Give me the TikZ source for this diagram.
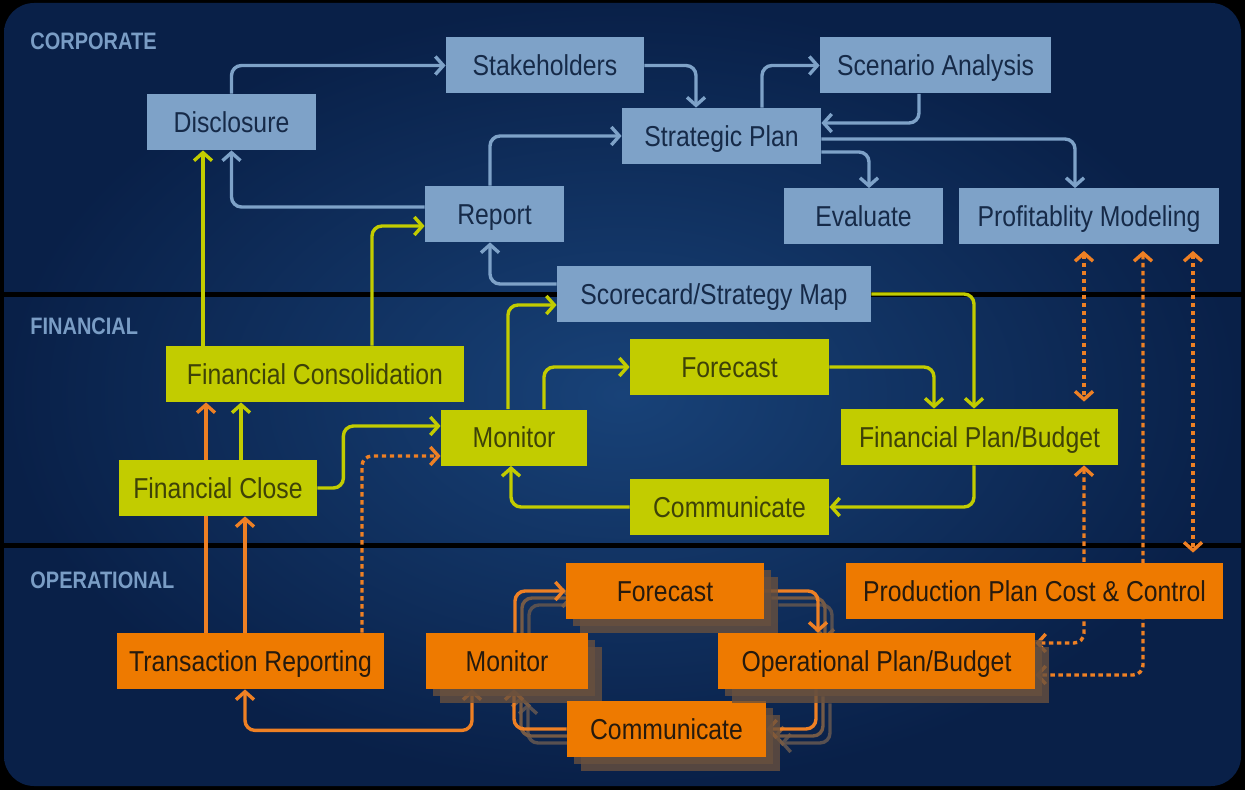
\documentclass[tikz,border=0pt]{standalone}
\usepackage{fontspec}
\setmainfont{Liberation Sans}[FakeStretch=0.86]
\newfontfamily\bandfont{Liberation Sans}[FakeStretch=0.84]
\usepackage{xcolor}
\usepackage{tikz}
\usetikzlibrary{arrows.meta, calc, shadows}

\definecolor{bgin}{RGB}{24,66,120}
\definecolor{bgout}{RGB}{9,32,72}
\definecolor{bandtext}{RGB}{122,157,197}
\definecolor{corpbox}{RGB}{126,162,200}
\definecolor{corptext}{RGB}{22,42,72}
\definecolor{finbox}{RGB}{194,204,0}
\definecolor{fintext}{RGB}{62,66,8}
\definecolor{opbox}{RGB}{238,122,0}
\definecolor{optext}{RGB}{38,26,14}
\definecolor{oparr}{RGB}{238,128,36}
\definecolor{opshade}{RGB}{104,80,62}
\definecolor{opshadeA}{RGB}{116,90,70}
\definecolor{opshadeB}{RGB}{88,80,80}

\newlength{\unitpx}\setlength{\unitpx}{0.5pt}

\pgfdeclarelayer{bg}
\pgfdeclarelayer{edges}
\pgfsetlayers{bg,edges,main}

\begin{document}
\begin{tikzpicture}[
  x=\unitpx, y=-\unitpx,
  >={Straight Barb[length=4pt,width=9pt]},
  box/.style={inner sep=0pt, minimum height=56\unitpx, text height=10.4pt, text depth=0pt, font=\fontsize{14.4}{16}\selectfont},
  corp/.style={box, fill=corpbox, text=corptext},
  fin/.style={box, fill=finbox, text=fintext},
  ops/.style={box, fill=opbox, text=optext},
  stack/.style={double copy shadow={shadow xshift=3.5pt, shadow yshift=-3.5pt, fill=opshade, draw=none, opacity=0.8}},
  band/.style={font=\bandfont\bfseries\fontsize{11.9}{14}\selectfont, text=bandtext, anchor=base west, inner sep=0pt},
  arr/.style={->, line width=1.7pt, rounded corners=5pt},
  barr/.style={arr, draw=corpbox},
  garr/.style={arr, draw=finbox},
  oarr/.style={arr, draw=oparr},
  odot/.style={oarr, dash pattern=on 2.2pt off 1.8pt}
]
\useasboundingbox (0,0) rectangle (1245,790);

% Background and bands
\begin{pgfonlayer}{bg}
\fill[black] (0,0) rectangle (1245,790);
\shade[inner color=bgin, outer color=bgout, rounded corners=15pt] (4,3) rectangle (1241,786);
\draw[black, line width=2.5pt] (0,294.5) -- (1245,294.5);
\draw[black, line width=2.5pt] (0,545.5) -- (1245,545.5);
\end{pgfonlayer}

\node[band] (corplabel) at (30,50) {CORPORATE};
\node[band] (finlabel) at (30,335) {FINANCIAL};
\node[band] (oplabel) at (30,588) {OPERATIONAL};

% Corporate
\node[corp, minimum width=169\unitpx] (disc) at (231.5,122) {Disclosure};
\node[corp, minimum width=198\unitpx] (stake) at (545,65.5) {Stakeholders};
\node[corp, minimum width=199\unitpx] (strat) at (721.5,136) {Strategic Plan};
\node[corp, minimum width=231\unitpx] (scen) at (935.5,65.5) {Scenario Analysis};
\node[corp, minimum width=139\unitpx] (report) at (494.5,214) {Report};
\node[corp, minimum width=159\unitpx] (eval) at (863.5,216.5) {Evaluate};
\node[corp, minimum width=260\unitpx] (profit) at (1089,216.5) {Profitablity Modeling};
\node[corp, minimum width=314\unitpx] (score) at (714,294) {Scorecard/Strategy Map};

% Financial
\node[fin, minimum width=298\unitpx] (fcons) at (315,374) {Financial Consolidation};
\node[fin, minimum width=198\unitpx] (fclose) at (218,488) {Financial Close};
\node[fin, minimum width=146\unitpx] (fmon) at (514,437.5) {Monitor};
\node[fin, minimum width=199\unitpx] (ffore) at (729.5,367) {Forecast};
\node[fin, minimum width=199\unitpx] (fcomm) at (729.5,507) {Communicate};
\node[fin, minimum width=277\unitpx] (fplan) at (979.5,437) {Financial Plan/Budget};

% Operational
\node[ops, minimum width=267\unitpx] (trans) at (250.5,661) {Transaction Reporting};
\node[ops, stack, minimum width=162\unitpx] (omon) at (507,661) {Monitor};
\node[ops, stack, minimum width=198\unitpx] (ofore) at (665,591) {Forecast};
\node[ops, stack, minimum width=199\unitpx] (ocomm) at (666.5,729) {Communicate};
\node[ops, stack, minimum width=317\unitpx] (oplan) at (876.5,661) {Operational Plan/Budget};
\node[ops, minimum width=377\unitpx] (prod) at (1034.5,591) {Production Plan Cost \& Control};

\begin{pgfonlayer}{edges}
% Corporate links
\draw[barr] (disc.north) |- (stake.west);
\draw[barr] (stake.east) -| ($(strat.north)+(-25.5,0)$);
\draw[barr] ($(strat.north)+(40.5,0)$) |- (scen.west);
\draw[barr] ($(scen.south)+(-16.5,0)$) |- ($(strat.east)+(0,-13)$);
\draw[barr] ($(strat.east)+(0,3)$) -| ($(profit.north)+(-14,0)$);
\draw[barr] ($(strat.east)+(0,16)$) -| ($(eval.north)+(5.5,0)$);
\draw[barr] ($(report.north)+(-4.5,0)$) |- (strat.west);
\draw[barr] ($(report.west)+(0,-7)$) -| (disc.south);
\draw[barr] ($(score.west)+(0,-10)$) -| ($(report.south)+(-4.5,0)$);

% Financial links
\draw[garr] ($(fcons.north)+(-112,0)$) -- ($(disc.south)+(-28.5,0)$);
\draw[garr] ($(fcons.north)+(57,0)$) |- ($(report.west)+(0,12)$);
\draw[garr] ($(fclose.north)+(23,0)$) -- ($(fcons.south)+(-74,0)$);
\draw[garr] (fclose.east) -- ++(26,0) |- ($(fmon.west)+(0,-11.5)$);
\draw[garr] ($(fmon.north)+(-6,0)$) |- ($(score.west)+(0,11)$);
\draw[garr] ($(fmon.north)+(30,0)$) |- (ffore.west);
\draw[garr] (ffore.east) -| ($(fplan.north)+(-45.5,0)$);
\draw[garr] (score.east) -| ($(fplan.north)+(-5.5,0)$);
\draw[garr] ($(fplan.south)+(-5.5,0)$) |- (fcomm.east);
\draw[garr] (fcomm.west) -| ($(fmon.south)+(-3,0)$);

% Operational links
\draw[oarr] ($(trans.north)+(-44.5,0)$) -- ($(fcons.south)+(-109,0)$);
\draw[oarr] ($(trans.north)+(-5.5,0)$) -- ($(fclose.south)+(27,0)$);
\draw[odot] ($(trans.north)+(111.5,0)$) |- ($(fmon.west)+(0,18.5)$);
\draw[oarr, <->] ($(trans.south)+(-5.5,0)$) -- ++(0,41) -| ($(omon.south)+(-35,0)$);
\foreach \d/\c in {14/opshadeB, 7/opshadeA, 0/oparr} {
  \draw[arr, draw=\c] ($(omon.north)+(8+\d,\d)$) |- ($(ofore.west)+(\d,\d)$);
  \draw[arr, draw=\c] ($(ofore.east)+(\d,\d)$) -| ($(oplan.north)+(-58.5+\d,\d)$);
  \draw[arr, draw=\c] ($(oplan.south)+(-60.5+\d,\d)$) |- ($(ocomm.east)+(\d,\d)$);
  \draw[arr, draw=\c] ($(ocomm.west)+(\d,\d)$) -| ($(omon.south)+(7+\d,\d)$);
}

% Dotted cross-level links
\draw[odot, <->, shorten <=3pt, shorten >=3.5pt] ($(profit.south)+(-5,0)$) -- ($(fplan.north)+(104.5,0)$);
\draw[odot, <->] ($(fplan.south)+(104.5,0)$) |- ($(oplan.east)+(0,-18)$);
\draw[odot, <->, shorten <=3pt] ($(profit.south)+(54,0)$) |- ($(oplan.east)+(0,14)$);
\draw[odot, <->, shorten <=3pt, shorten >=5pt] ($(profit.south)+(104,0)$) -- ($(prod.north)+(158.5,0)$);
\end{pgfonlayer}
\end{tikzpicture}
\end{document}
